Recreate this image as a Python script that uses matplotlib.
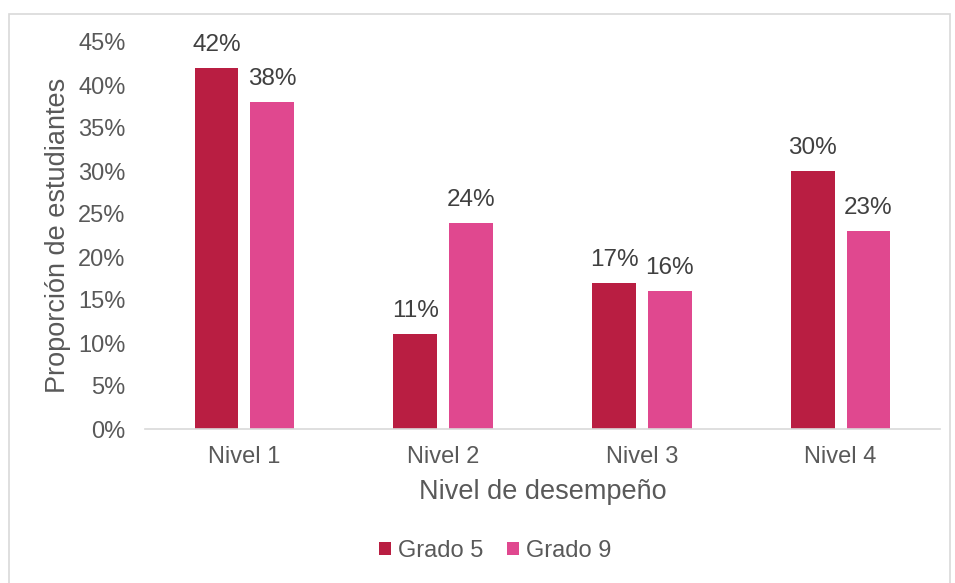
import matplotlib
matplotlib.use("Agg")
import matplotlib.pyplot as plt
from matplotlib.patches import Rectangle
import numpy as np

categories = ["Nivel 1", "Nivel 2", "Nivel 3", "Nivel 4"]
grado5 = [42, 11, 17, 30]
grado9 = [38, 24, 16, 23]
series_names = ["Grado 5", "Grado 9"]
yticks = [0, 5, 10, 15, 20, 25, 30, 35, 40, 45]

plt.rcParams['font.family'] = ['Liberation Sans', 'DejaVu Sans']
txt = "#595959"
c5 = "#B91E42"
c9 = "#E0488F"

fig = plt.figure(figsize=(9.55, 5.83), dpi=100)
fig.patches.append(Rectangle((9/955, -0.01), (950-9)/955, 1 - 14/583 + 0.01,
                             transform=fig.transFigure, fill=False,
                             edgecolor="#D9D9D9", linewidth=1.2))
ax = fig.add_axes([145/955, 1-429/583, (940-145)/955, (429-42)/583])

x = np.arange(len(categories))
w = 0.22
off = 0.14
b1 = ax.bar(x - off, grado5, w, color=c5, label=series_names[0])
b2 = ax.bar(x + off, grado9, w, color=c9, label=series_names[1])
for bars, vals in ((b1, grado5), (b2, grado9)):
    for r, v in zip(bars, vals):
        ax.text(r.get_x() + r.get_width()/2, v + 1.4, f"{v}%", ha="center", va="bottom",
                fontsize=17.5, color="#404040")

ax.set_xlim(-0.5, 3.5)
ax.set_ylim(0, 45)
ax.set_yticks(yticks)
ax.set_yticklabels([f"{t}%" for t in yticks])
ax.set_xticks(x)
ax.set_xticklabels(categories)
ax.tick_params(axis="both", length=0, labelsize=17, colors=txt)
ax.tick_params(axis="y", pad=14)
ax.tick_params(axis="x", pad=12)
for s in ["top", "right", "left"]:
    ax.spines[s].set_visible(False)
ax.spines["bottom"].set_color("#D9D9D9")
ax.spines["bottom"].set_linewidth(1.2)
ax.set_ylabel("Proporción de estudiantes", fontsize=19.5, color=txt, labelpad=5)
ax.set_xlabel("Nivel de desempeño", fontsize=19.5, color=txt, labelpad=8)

fig.legend(handles=[b1, b2], labels=series_names, loc="center", bbox_to_anchor=(495/955, 1-551/583),
           ncol=2, frameon=False, fontsize=17, labelcolor=txt, handlelength=0.5,
           handleheight=0.5, handletextpad=0.3, columnspacing=1.0)

fig.savefig("out.png", dpi=100)
